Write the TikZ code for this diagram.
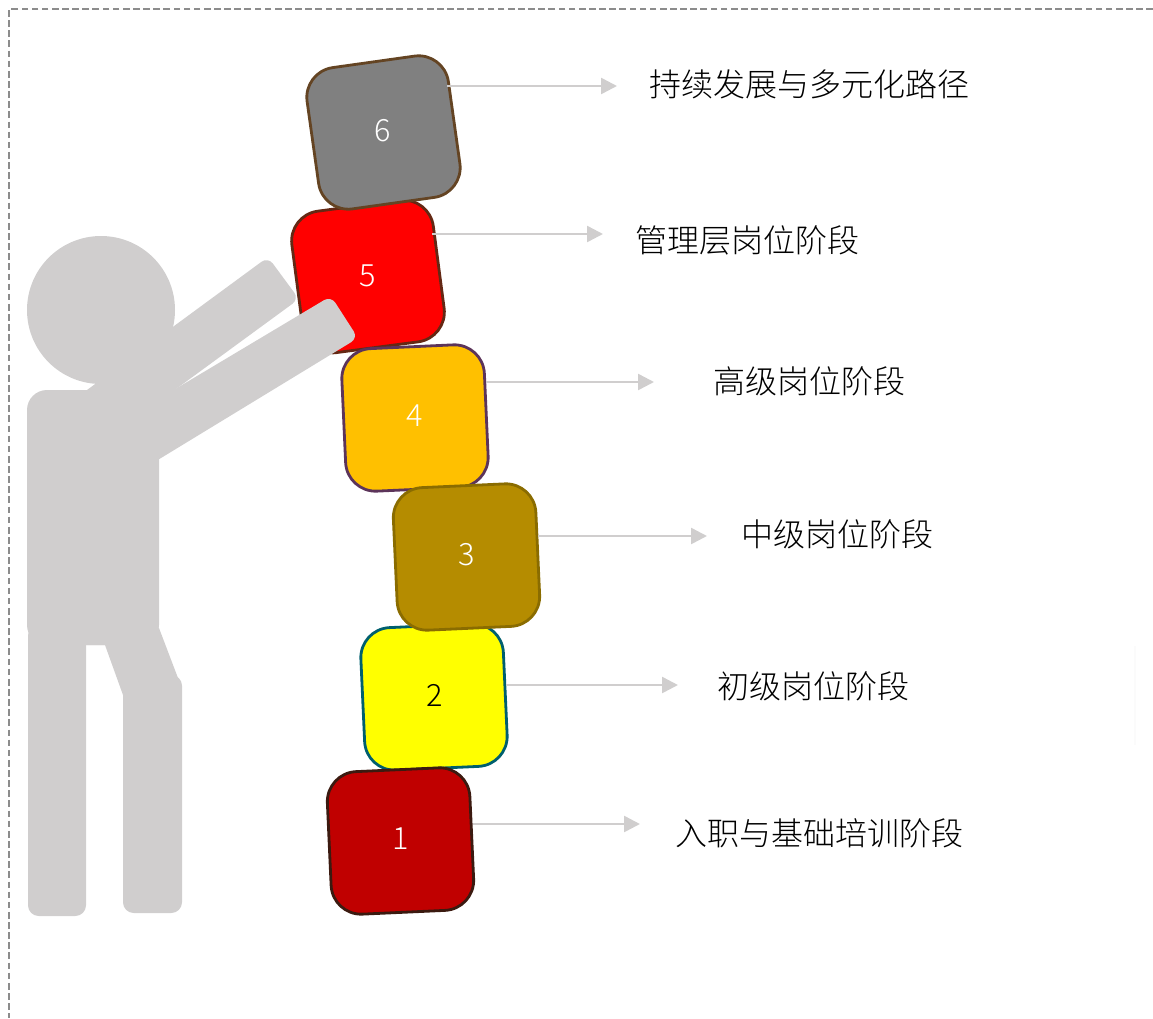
\documentclass[tikz,border=0pt]{standalone}
\usepackage{fontspec}
\newfontfamily\cjk[UprightFont=* Light]{Noto Sans CJK SC}
\usetikzlibrary{arrows.meta}
\definecolor{figgray}{HTML}{D0CECE}
\definecolor{framegray}{HTML}{8C8C8C}
\definecolor{faintmark}{HTML}{FBFBFB}
\definecolor{fillone}{HTML}{C00000}
\definecolor{edgeone}{HTML}{3B1A10}
\definecolor{filltwo}{HTML}{FFFF00}
\definecolor{edgetwo}{HTML}{005F6E}
\definecolor{fillthree}{HTML}{B58C00}
\definecolor{edgethree}{HTML}{8A6C00}
\definecolor{fillfour}{HTML}{FFC000}
\definecolor{edgefour}{HTML}{5C345A}
\definecolor{fillfive}{HTML}{FF0000}
\definecolor{edgefive}{HTML}{642814}
\definecolor{fillsix}{HTML}{808080}
\definecolor{edgesix}{HTML}{644423}
\tikzset{
  block/.style={draw=#1,line width=2.1pt,rounded corners=22.5pt,minimum width=107pt,minimum height=107pt,inner sep=0pt},
  digit/.style={font=\cjk\fontsize{23}{23}\selectfont,text=#1,inner sep=0pt},
  conn/.style={draw=figgray,line width=1.9pt,-{Triangle[length=12pt,width=12pt]}},
  caption/.style={font=\cjk\fontsize{24}{24}\selectfont,text=black,inner sep=0pt},
  body/.style={fill=figgray,draw=none},
}
\begin{document}
\begin{tikzpicture}[x=0.75pt,y=-0.75pt]
\useasboundingbox (0,0) rectangle (1153,1018);
% frame
\draw[framegray,line width=0.9pt,dash pattern=on 5pt off 2.6pt] (1153,9) -- (9,9) -- (9,1018);
\fill[faintmark] (1134,646) rectangle (1136,745);
% blocks
\node[block=edgetwo,fill=filltwo,rotate=2.6] (s2) at (434,697) {};
\node[block=edgeone,fill=fillone,rotate=2.6] (s1) at (400.5,841) {};
\node[block=edgefive,fill=fillfive,rotate=7.5] (s5) at (368,276.5) {};
\node[block=edgesix,fill=fillsix,rotate=8] (s6) at (383.5,132.5) {};
\node[block=edgefour,fill=fillfour,rotate=2.6] (s4) at (415,418) {};
\node[block=edgethree,fill=fillthree,rotate=2.6] (s3) at (466.5,557) {};
% digits
\node[digit=white] (d1) at (400.5,839) {1};
\node[digit=black] (d2) at (434.5,695) {2};
\node[digit=white] (d3) at (466.5,555) {3};
\node[digit=white] (d4) at (415,416) {4};
\node[digit=white] (d5) at (368,276) {5};
\node[digit=white] (d6) at (383,130.5) {6};
% figure
\fill[body] (101,310) circle (74);
\fill[body] (87,390) [rounded corners=6pt] -- (268,257) -- (299,299) [sharp corners] -- (120,430) -- cycle;
\fill[body] (120,422) [rounded corners=6pt] -- (331,296) -- (358,338) [sharp corners] -- (120,483) -- cycle;
\fill[body,rounded corners=15pt] (27,645) -- (27,390) -- (159,390) -- (159,645) -- cycle;
\fill[body] (80,628) -- (159,628) -- (178,678) -- (178,720) -- (123,720) -- (123,695) -- (105,645) -- (80,645) -- cycle;
\fill[body,rounded corners=8pt] (28,625) rectangle (86,916);
\fill[body,rounded corners=8pt] (123,675) rectangle (182,913);
% arrows
\coordinate (e1) at (640,824);
\coordinate (e2) at (678,685);
\coordinate (e3) at (707,536);
\coordinate (e4) at (654,382);
\coordinate (e5) at (603,234);
\coordinate (e6) at (617,86);
\draw[conn] (s1.11 |- e1) -- (e1);
\draw[conn] (s2.7 |- e2) -- (e2);
\draw[conn] (s3.14 |- e3) -- (e3);
\draw[conn] (s4.25 |- e4) -- (e4);
\draw[conn,shorten <=-2.5pt] (s5.25 |- e5) -- (e5);
\draw[conn,shorten <=-2.5pt] (s6.27 |- e6) -- (e6);
% captions
\node[caption,anchor=west] (t6) at (649,84) {持续发展与多元化路径};
\node[caption,anchor=west] (t5) at (635,240) {管理层岗位阶段};
\node[caption,anchor=west] (t4) at (713,381) {高级岗位阶段};
\node[caption,anchor=west] (t3) at (741.5,534) {中级岗位阶段};
\node[caption,anchor=west] (t2) at (717,686) {初级岗位阶段};
\node[caption,anchor=west] (t1) at (675,833) {入职与基础培训阶段};
\end{tikzpicture}
\end{document}
